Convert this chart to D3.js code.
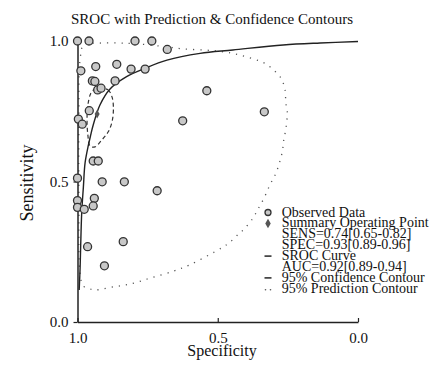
<!DOCTYPE html>
<html>
<head>
<meta charset="utf-8">
<script src="https://cdn.jsdelivr.net/npm/d3@7"></script>
<style>
  body { margin: 0; background: #fff; }
  svg { display: block; font-family: "Liberation Serif", "Times New Roman", serif; }
</style>
</head>
<body>
<div id="chart"></div>
<script>
var W = 443, H = 365;

// observed studies (specificity, sensitivity)
var obsSpec = [1.00, 0.959, 0.795, 0.735, 0.680, 0.988, 0.935, 0.860, 0.809, 0.759,
               0.947, 0.938, 0.866, 0.928, 0.916, 0.539, 0.958, 0.997, 0.983, 0.625,
               0.334, 0.944, 0.926, 1.00, 0.912, 0.833, 0.716, 1.00, 0.940, 1.00,
               0.976, 0.944, 0.964, 0.837, 0.904];
var obsSens = [1.00, 1.00, 1.00, 1.00, 0.970, 0.894, 0.909, 0.917, 0.900, 0.900,
               0.858, 0.856, 0.858, 0.826, 0.832, 0.823, 0.752, 0.722, 0.704, 0.716,
               0.748, 0.573, 0.573, 0.512, 0.499, 0.499, 0.467, 0.432, 0.440, 0.408,
               0.401, 0.413, 0.268, 0.286, 0.200];

// summary operating point
var summarySpec = [0.93];
var summarySens = [0.74];

// SROC curve
var srocSpec = [0.994, 0.991, 0.985, 0.979, 0.973, 0.961, 0.953, 0.944, 0.920, 0.884,
                0.825, 0.759, 0.681, 0.563, 0.446, 0.267, 0.135, 0.0];
var srocSens = [0.114, 0.185, 0.388, 0.481, 0.566, 0.630, 0.665, 0.701, 0.772, 0.829,
                0.873, 0.903, 0.932, 0.956, 0.968, 0.986, 0.993, 0.998];

// 95% confidence contour
var confSpec = [0.920, 0.891, 0.877, 0.872, 0.877, 0.891, 0.913, 0.938, 0.955, 0.963,
                0.966, 0.963, 0.952, 0.938];
var confSens = [0.833, 0.826, 0.801, 0.762, 0.712, 0.676, 0.648, 0.623, 0.626, 0.665,
                0.719, 0.772, 0.815, 0.829];

// 95% prediction contour
var predSpec = [0.991, 0.995, 0.995, 0.991, 0.977, 0.945, 0.824, 0.706, 0.624, 0.522,
                0.456, 0.421, 0.379, 0.339, 0.310, 0.278, 0.266, 0.260, 0.257, 0.252,
                0.257, 0.265, 0.270, 0.292, 0.314, 0.335, 0.358, 0.375, 0.406, 0.429,
                0.459, 0.486, 0.601, 0.658, 0.742, 0.789, 0.827, 0.866, 0.938, 0.961, 0.979];
var predSens = [0.173, 0.434, 0.719, 0.932, 0.989, 0.992, 0.992, 0.982, 0.972, 0.966,
                0.958, 0.950, 0.938, 0.924, 0.905, 0.873, 0.849, 0.826, 0.778, 0.748,
                0.689, 0.645, 0.605, 0.531, 0.488, 0.441, 0.399, 0.369, 0.331, 0.310,
                0.282, 0.264, 0.203, 0.181, 0.156, 0.141, 0.132, 0.126, 0.114, 0.120, 0.128];

var ticks = [1.0, 0.5, 0.0];
var legendLabels = ["Observed Data", "Summary Operating Point", "SENS=0.74[0.65-0.82]",
                    "SPEC=0.93[0.89-0.96]", "SROC Curve", "AUC=0.92[0.89-0.94]",
                    "95% Confidence Contour", "95% Prediction Contour"];
var legendSymbols = ["circle", "diamond", "", "", "solid", "", "dash", "dots"];

var svg = d3.select("#chart").append("svg")
    .attr("width", W)
    .attr("height", H);

svg.append("rect").attr("width", W).attr("height", H).attr("fill", "#fff");

var x = d3.scaleLinear().domain([1, 0]).range([77.5, 358]);
var y = d3.scaleLinear().domain([0, 1]).range([322, 41]);

function zip(a, b) { return a.map(function(v, i) { return [v, b[i]]; }); }

var line = d3.line()
    .x(function(d) { return x(d[0]); })
    .y(function(d) { return y(d[1]); });

// prediction contour
svg.append("path")
    .datum(zip(predSpec, predSens))
    .attr("d", line.curve(d3.curveCatmullRomClosed))
    .attr("fill", "none")
    .attr("stroke", "#555")
    .attr("stroke-width", 1.3)
    .attr("stroke-dasharray", "1.2,6");

// confidence contour
svg.append("path")
    .datum(zip(confSpec, confSens))
    .attr("d", line.curve(d3.curveCatmullRomClosed))
    .attr("fill", "none")
    .attr("stroke", "#333")
    .attr("stroke-width", 1.2)
    .attr("stroke-dasharray", "4,3");

// SROC curve
svg.append("path")
    .datum(zip(srocSpec, srocSens))
    .attr("d", line.curve(d3.curveCatmullRom))
    .attr("fill", "none")
    .attr("stroke", "#222")
    .attr("stroke-width", 1.4);

// axes
var fmt = d3.format(".1f");
var xAxis = svg.append("g")
    .attr("transform", "translate(0," + y(0) + ")")
    .call(d3.axisBottom(x).tickValues(ticks).tickFormat(fmt)
        .tickSizeInner(-4).tickSizeOuter(0).tickPadding(10));
var yAxis = svg.append("g")
    .attr("transform", "translate(" + x(1) + ",0)")
    .call(d3.axisLeft(y).tickValues(ticks).tickFormat(fmt)
        .tickSizeInner(4).tickSizeOuter(0).tickPadding(5));

[xAxis, yAxis].forEach(function(g) {
    g.select(".domain").attr("stroke", "#222").attr("stroke-width", 1.5);
    g.selectAll(".tick line").attr("stroke", "#222").attr("stroke-width", 1.2);
    g.selectAll(".tick text")
        .attr("fill", "#111")
        .style("font-family", "Liberation Serif")
        .style("font-size", "15px");
});

// observed points
svg.append("g").selectAll("circle")
    .data(zip(obsSpec, obsSens))
    .enter()
    .append("circle")
    .attr("cx", function(d) { return x(d[0]); })
    .attr("cy", function(d) { return y(d[1]); })
    .attr("r", 4)
    .attr("fill", "#c8c8c8")
    .attr("stroke", "#333")
    .attr("stroke-width", 1.3);

// summary point
svg.append("g").selectAll("path")
    .data(zip(summarySpec, summarySens))
    .enter()
    .append("path")
    .attr("d", d3.symbol().type(d3.symbolDiamond).size(22))
    .attr("transform", function(d) { return "translate(" + x(d[0]) + "," + y(d[1]) + ")"; })
    .attr("fill", "#555");

// title
svg.append("text")
    .attr("x", 212)
    .attr("y", 24)
    .attr("text-anchor", "middle")
    .style("font-size", "15px")
    .attr("fill", "#111")
    .text("SROC with Prediction & Confidence Contours");

// axis titles
svg.append("text")
    .attr("transform", "translate(33,183) rotate(-90)")
    .attr("text-anchor", "middle")
    .style("font-size", "18px")
    .attr("fill", "#111")
    .text("Sensitivity");

svg.append("text")
    .attr("x", 222)
    .attr("y", 356)
    .attr("text-anchor", "middle")
    .style("font-size", "16px")
    .attr("fill", "#111")
    .text("Specificity");

// legend
var leg = svg.append("g");
var lx = 268, tx = 281.7, ly0 = 216.5, lstep = 10.9;
legendLabels.forEach(function(t, i) {
    var by = ly0 + i * lstep, cy = by - 4;
    leg.append("text")
        .attr("x", tx).attr("y", by)
        .style("font-size", "14px")
        .attr("fill", "#111")
        .text(t);
    var s = legendSymbols[i];
    if (s === "circle") {
        leg.append("circle").attr("cx", lx).attr("cy", cy).attr("r", 3)
            .attr("fill", "#c8c8c8").attr("stroke", "#333").attr("stroke-width", 1.3);
    } else if (s === "diamond") {
        leg.append("path").attr("d", d3.symbol().type(d3.symbolDiamond).size(26))
            .attr("transform", "translate(" + lx + "," + cy + ")").attr("fill", "#555");
    } else if (s === "solid" || s === "dash") {
        leg.append("line").attr("x1", lx - 3.5).attr("x2", lx + 3.5)
            .attr("y1", cy).attr("y2", cy)
            .attr("stroke", "#333").attr("stroke-width", 1.6);
    } else if (s === "dots") {
        [lx - 2.5, lx + 2.5].forEach(function(dx) {
            leg.append("circle").attr("cx", dx).attr("cy", cy + 1).attr("r", 0.8).attr("fill", "#555");
        });
    }
});
</script>
</body>
</html>
